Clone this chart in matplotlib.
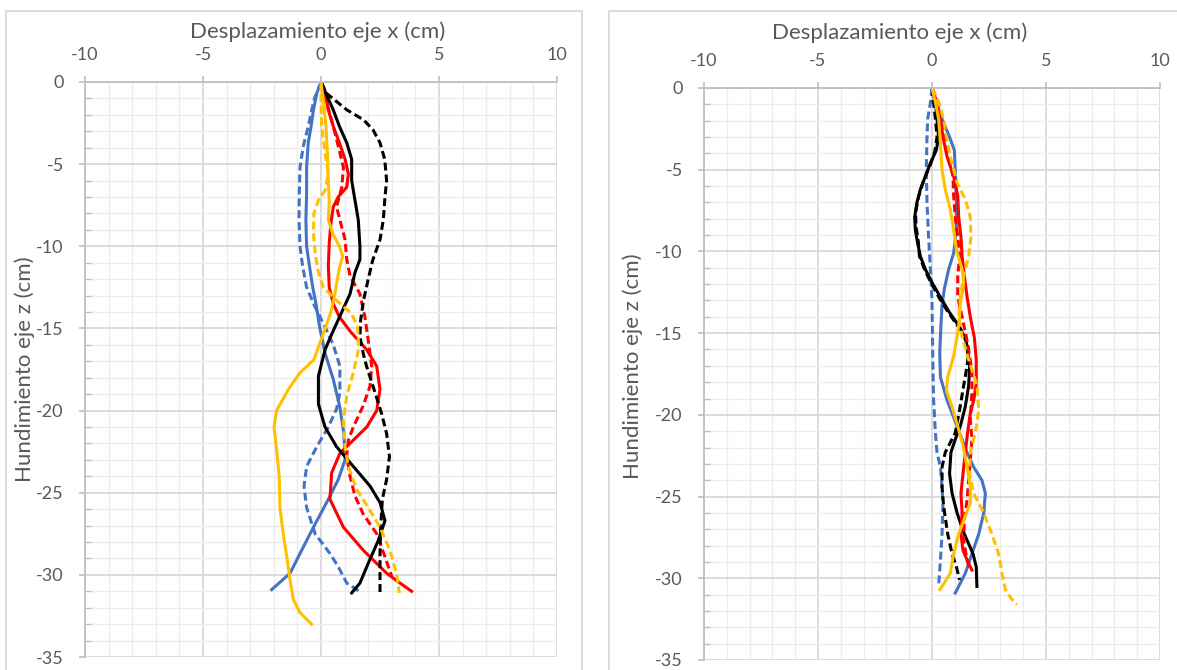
import numpy as np
import matplotlib.pyplot as plt
from matplotlib.patches import Rectangle

plt.rcParams["font.family"] = "Lato"
plt.rcParams["axes.unicode_minus"] = False

# ---- ensayo A (izquierda): desplazamiento x / hundimiento z, en cm ----
a_azul_x = [0, -0.18, -0.32, -0.42, -0.54, -0.61, -0.61, -0.64, -0.61, -0.49, -0.35, -0.2, -0.06, 0.17, 0.52, 0.8, 0.97, 1.02, 0.73, 0.31, -0.32, -0.89, -1.31, -2.09]
a_azul_z = [0, -0.7, -1.7, -2.7, -3.7, -5.2, -6.8, -8.4, -10.0, -11.2, -12.5, -13.6, -14.9, -16.5, -18.1, -19.8, -21.4, -23.0, -24.2, -25.4, -27.1, -28.7, -29.9, -30.9]

a_azul_d_x = [0, -0.3, -0.54, -0.75, -0.89, -0.92, -0.93, -0.89, -0.78, -0.61, -0.25, 0.17, 0.52, 0.8, 0.8, 0.66, 0.31, -0.18, -0.61, -0.72, -0.61, -0.25, 0.38, 0.73, 1.09, 1.72]
a_azul_d_z = [0, -1.1, -2.7, -3.9, -5.2, -6.8, -8.4, -10.0, -11.2, -12.5, -13.7, -14.9, -16.0, -17.3, -18.9, -19.9, -21.0, -22.2, -23.4, -24.6, -25.9, -27.5, -28.7, -29.5, -30.5, -31.1]

a_rojo_x = [0, 0.17, 0.31, 0.52, 0.78, 1.02, 1.16, 1.09, 0.73, 0.52, 0.42, 0.35, 0.31, 0.35, 0.52, 0.78, 1.25, 1.94, 2.36, 2.5, 2.36, 1.94, 1.37, 0.8, 0.45, 0.38, 0.95, 1.79, 2.78, 3.35, 3.84]
a_rojo_z = [0, -0.7, -1.7, -2.7, -3.7, -4.7, -5.6, -6.4, -7.0, -7.6, -8.6, -9.8, -11.2, -12.5, -13.5, -14.3, -15.2, -16.3, -17.3, -18.7, -20.0, -21.0, -21.8, -22.6, -23.8, -25.4, -27.1, -28.5, -29.9, -30.5, -31.0]

a_rojo_d_x = [0, 0.21, 0.52, 0.73, 0.95, 0.88, 0.66, 0.8, 1.02, 1.09, 1.23, 1.65, 1.86, 2.0, 2.15, 2.08, 1.79, 1.37, 1.16, 1.09, 1.23, 1.44, 1.79, 2.36, 2.71, 3.0]
a_rojo_d_z = [0, -1.1, -2.7, -3.9, -5.2, -6.4, -7.6, -8.4, -9.6, -10.8, -11.8, -12.9, -14.3, -15.7, -17.3, -18.5, -19.7, -21.0, -21.8, -22.8, -24.0, -25.2, -26.3, -27.5, -28.9, -30.1]

a_negro_x = [0, 0.21, 0.52, 0.78, 1.09, 1.3, 1.3, 1.44, 1.58, 1.65, 1.65, 1.44, 1.23, 0.85, 0.5, 0.17, -0.11, -0.11, 0.17, 0.66, 1.37, 2.08, 2.5, 2.71, 2.43, 2.0, 1.65, 1.3]
a_negro_z = [0, -0.7, -1.7, -2.7, -3.7, -4.7, -6.0, -7.2, -8.4, -10.0, -10.8, -11.6, -12.9, -14.1, -15.2, -16.3, -17.9, -19.6, -21.0, -22.2, -23.4, -24.6, -25.6, -26.7, -27.9, -29.3, -30.5, -31.1]

a_negro_d_x = [0, 0.24, 1.1, 1.8, 2.2, 2.5, 2.7, 2.78, 2.7, 2.64, 2.5, 2.2, 2.0, 1.8, 1.68, 1.65, 1.8, 1.93, 2.29, 2.57, 2.78, 2.9, 2.78, 2.6, 2.53, 2.5, 2.5]
a_negro_d_z = [0, -0.7, -1.7, -2.3, -2.9, -3.7, -4.7, -6.0, -7.2, -8.4, -9.6, -10.8, -12.0, -13.3, -14.5, -15.5, -16.6, -17.3, -18.9, -20.2, -21.4, -22.8, -24.2, -25.4, -27.1, -28.7, -31.1]

a_naranja_x = [0, 0.1, 0.21, 0.27, 0.31, 0.35, 0.31, 0.49, 0.78, 0.92, 0.8, 0.69, 0.59, 0.4, 0.1, -0.3, -0.89, -1.38, -1.88, -1.99, -1.88, -1.77, -1.74, -1.6, -1.43, -1.29, -1.17, -0.89, -0.4]
a_naranja_z = [0, -1.1, -2.7, -4.3, -6.0, -7.2, -8.4, -9.2, -10.0, -10.6, -11.2, -12.0, -12.9, -14.1, -15.3, -16.9, -17.7, -18.7, -20.0, -21.0, -22.4, -24.0, -25.9, -27.5, -29.1, -30.5, -31.5, -32.3, -33.0]

a_naranja_d_x = [0, 0, 0.03, 0.17, 0.31, 0.17, -0.11, -0.3, -0.32, -0.25, -0.11, 0.1, 0.66, 1.3, 1.55, 1.6, 1.37, 1.09, 0.95, 1.02, 1.16, 1.51, 2.0, 2.5, 2.92, 3.2, 3.32]
a_naranja_d_z = [0, -1.1, -2.7, -4.3, -5.6, -6.6, -7.2, -8.0, -9.2, -10.4, -11.6, -12.5, -13.3, -14.1, -14.9, -16.2, -17.7, -19.1, -20.6, -22.2, -23.4, -24.8, -25.9, -27.1, -28.5, -29.9, -31.1]

# ---- ensayo B (derecha) ----
b_azul_x = [0, 0.15, 0.44, 0.77, 0.98, 1.02, 1.07, 1.07, 0.95, 0.73, 0.54, 0.44, 0.39, 0.34, 0.37, 0.66, 1.1, 1.54, 1.83, 2.19, 2.34, 2.27, 2.05, 1.75, 1.46, 1.02]
b_azul_z = [0, -0.9, -1.9, -3.0, -3.8, -5.0, -7.0, -8.7, -10.1, -11.1, -12.3, -13.3, -14.6, -16.2, -17.7, -19.1, -20.7, -22.3, -23.2, -24.0, -24.8, -26.0, -27.3, -28.5, -29.7, -30.9]

b_azul_d_x = [0, -0.07, -0.19, -0.22, -0.25, -0.22, -0.15, -0.07, 0.0, 0.02, 0.04, 0.07, 0.15, 0.22, 0.37, 0.44, 0.48, 0.44, 0.37, 0.29]
b_azul_d_z = [0, -0.9, -1.9, -3.0, -5.0, -7.0, -9.1, -11.1, -13.0, -15.0, -17.0, -19.1, -21.1, -22.3, -23.2, -24.4, -25.6, -27.3, -28.9, -30.5]

b_negro_x = [0, 0.15, 0.22, 0.29, 0.19, -0.07, -0.29, -0.51, -0.66, -0.76, -0.73, -0.63, -0.51, -0.29, 0, 0.37, 0.75, 1.2, 1.5, 1.65, 1.61, 1.46, 1.24, 1.02, 0.83, 0.77, 0.88, 1.1, 1.39, 1.8, 1.94, 1.97]
b_negro_z = [0, -0.9, -1.9, -3.0, -3.8, -4.6, -5.4, -6.2, -7.0, -7.9, -8.7, -9.5, -10.3, -11.1, -11.9, -12.8, -13.7, -14.6, -15.5, -17.0, -18.2, -19.5, -20.7, -21.5, -22.3, -23.6, -24.8, -26.0, -27.2, -28.5, -29.3, -30.5]

b_negro_d_x = [0, 0.07, 0.15, 0.22, 0.12, -0.1, -0.35, -0.58, -0.72, -0.7, -0.6, -0.55, -0.33, -0.05, 0.3, 0.7, 1.1, 1.39, 1.61, 1.54, 1.39, 1.21, 1.02, 0.8, 0.58, 0.44, 0.44, 0.51, 0.69, 0.88, 1.07, 1.21]
b_negro_d_z = [0, -0.9, -1.9, -3.0, -3.9, -4.8, -5.6, -6.6, -7.6, -8.5, -9.4, -10.3, -11.1, -11.9, -12.8, -13.7, -14.5, -15.0, -16.0, -17.0, -18.2, -19.7, -21.1, -21.7, -22.3, -23.2, -24.4, -25.6, -27.3, -28.5, -29.3, -30.1]

b_rojo_x = [0, 0.22, 0.37, 0.48, 0.66, 0.95, 1.13, 1.17, 1.27, 1.32, 1.42, 1.54, 1.68, 1.86, 1.94, 1.94, 1.83, 1.68, 1.56, 1.46, 1.36, 1.27, 1.32, 1.27, 1.36, 1.61, 1.75]
b_rojo_z = [0, -0.9, -1.9, -3.0, -4.2, -5.4, -6.6, -7.9, -9.1, -10.3, -11.5, -12.8, -14.0, -15.3, -16.6, -18.1, -19.1, -19.9, -21.1, -22.3, -23.6, -24.8, -26.0, -27.3, -28.3, -29.1, -29.5]

b_rojo_d_x = [0, 0.29, 0.44, 0.54, 0.73, 0.92, 0.95, 1.02, 1.13, 1.21, 1.13, 1.13, 1.32, 1.5, 1.65, 1.75, 1.75, 1.68, 1.75, 1.68, 1.61, 1.54, 1.42, 1.39, 1.54, 1.68]
b_rojo_d_z = [0, -0.9, -1.9, -3.0, -4.2, -5.4, -6.6, -7.9, -9.1, -10.3, -11.5, -12.8, -14.0, -15.2, -16.4, -17.3, -18.7, -20.3, -21.5, -22.8, -24.0, -25.2, -26.4, -27.7, -28.9, -29.5]

b_naranja_x = [0, 0.15, 0.29, 0.37, 0.44, 0.58, 0.8, 0.95, 1.07, 1.32, 1.39, 1.24, 1.2, 1.1, 0.95, 0.69, 0.63, 0.88, 1.13, 1.36, 1.54, 1.68, 1.68, 1.46, 1.17, 0.95, 0.8, 0.44, 0.34]
b_naranja_z = [0, -0.9, -1.9, -3.4, -5.0, -6.2, -7.4, -8.7, -9.9, -11.1, -11.9, -13.2, -14.2, -15.2, -16.4, -17.7, -18.5, -19.5, -20.7, -21.9, -23.2, -24.4, -25.4, -26.2, -27.3, -28.5, -29.7, -30.5, -30.7]

b_naranja_d_x = [0, 0.29, 0.51, 0.63, 0.8, 1.1, 1.46, 1.68, 1.71, 1.61, 1.39, 1.24, 1.17, 1.32, 1.6, 1.97, 2.05, 1.9, 1.68, 1.65, 1.83, 2.27, 2.63, 2.92, 3.07, 3.22, 3.51, 3.73]
b_naranja_d_z = [0, -0.9, -1.9, -3.0, -4.2, -5.8, -6.8, -7.9, -9.1, -10.3, -11.5, -12.8, -14.0, -15.2, -16.6, -18.2, -19.7, -21.1, -22.3, -23.6, -24.8, -26.0, -27.3, -28.5, -29.7, -30.7, -31.3, -31.6]

AZUL = "#4472C4"
ROJO = "#FF0000"
NEGRO = "#000000"
NARANJA = "#FFC000"
GRIS_TXT = "#595959"
guion = (0, (2.6, 1.3))

W, H = 1177, 670
fig = plt.figure(figsize=(W / 100, H / 100), dpi=100)


def px(x0, y0, x1, y1):
    # caja en pixeles (origen arriba a la izquierda) -> fracciones de figura
    return [x0 / W, 1 - y1 / H, (x1 - x0) / W, (y1 - y0) / H]


# marcos de los dos graficos
for x0, x1 in [(6, 582), (609, 1190)]:
    fig.patches.append(Rectangle((x0 / W, -0.02), (x1 - x0) / W, 1 - 11 / H + 0.02,
                                 transform=fig.transFigure, fill=False,
                                 edgecolor="#d9d9d9", lw=1.3))


def prepara_eje(ax):
    ax.set_xlim(-10, 10)
    ax.set_ylim(-35, 0)
    ax.xaxis.tick_top()
    ax.set_xticks([-10, -5, 0, 5, 10])
    ax.set_yticks(np.arange(-35, 1, 5))
    ax.set_xticks(np.arange(-10, 11, 1), minor=True)
    ax.set_yticks(np.arange(-35, 1, 1), minor=True)
    ax.grid(which="minor", color="#ececec", lw=1.0)
    ax.grid(which="major", color="#d9d9d9", lw=1.3)
    ax.set_axisbelow(True)
    for s in ["right", "bottom"]:
        ax.spines[s].set_visible(False)
    for s in ["left", "top"]:
        ax.spines[s].set_color("#bfbfbf")
        ax.spines[s].set_linewidth(1.3)
    ax.tick_params(which="major", direction="out", length=4.3, width=1.2, color="#bfbfbf",
                   labelsize=13, labelcolor=GRIS_TXT)
    ax.tick_params(axis="x", which="major", pad=9.5)
    ax.tick_params(axis="y", which="major", pad=11)
    ax.tick_params(axis="x", which="minor", length=0)
    ax.tick_params(axis="y", which="minor", direction="in", length=4.3, width=1, color="#bfbfbf")


def dibuja(ax, series):
    for x, z, color, estilo in series:
        ax.plot(x, z, color=color, lw=2.2, linestyle=estilo, solid_joinstyle="round")


ax1 = fig.add_axes(px(85, 82, 557, 657))
prepara_eje(ax1)
dibuja(ax1, [
    (a_azul_x, a_azul_z, AZUL, "-"),
    (a_azul_d_x, a_azul_d_z, AZUL, guion),
    (a_rojo_x, a_rojo_z, ROJO, "-"),
    (a_rojo_d_x, a_rojo_d_z, ROJO, guion),
    (a_negro_x, a_negro_z, NEGRO, "-"),
    (a_negro_d_x, a_negro_d_z, NEGRO, guion),
    (a_naranja_x, a_naranja_z, NARANJA, "-"),
    (a_naranja_d_x, a_naranja_d_z, NARANJA, guion),
])

ax2 = fig.add_axes(px(704, 88, 1160, 660))
prepara_eje(ax2)
dibuja(ax2, [
    (b_azul_x, b_azul_z, AZUL, "-"),
    (b_azul_d_x, b_azul_d_z, AZUL, guion),
    (b_negro_x, b_negro_z, NEGRO, "-"),
    (b_negro_d_x, b_negro_d_z, NEGRO, guion),
    (b_rojo_x, b_rojo_z, ROJO, "-"),
    (b_rojo_d_x, b_rojo_d_z, ROJO, guion),
    (b_naranja_x, b_naranja_z, NARANJA, "-"),
    (b_naranja_d_x, b_naranja_d_z, NARANJA, guion),
])

# titulos de ejes
fig.text(318 / W, 1 - 32 / H, "Desplazamiento eje x (cm)", ha="center", va="center",
         fontsize=16, color=GRIS_TXT)
fig.text(900 / W, 1 - 33 / H, "Desplazamiento eje x (cm)", ha="center", va="center",
         fontsize=16, color=GRIS_TXT)
fig.text(25 / W, 1 - 369 / H, "Hundimiento eje z (cm)", ha="center", va="center",
         rotation=90, fontsize=16, color=GRIS_TXT)
fig.text(633 / W, 1 - 366 / H, "Hundimiento eje z (cm)", ha="center", va="center",
         rotation=90, fontsize=16, color=GRIS_TXT)

plt.savefig("out.png", dpi=100)
